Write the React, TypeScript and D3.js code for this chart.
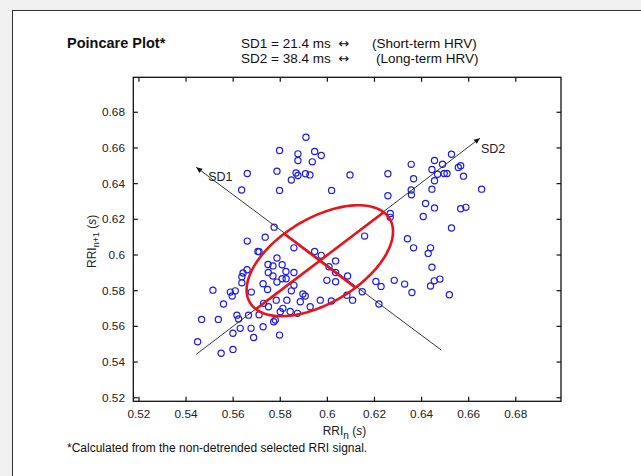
import React from "react";
import * as d3 from "d3";

const rriN = [0.5909,0.5797,0.5875,0.5875,0.5946,0.5974,0.5936,0.5786,0.5867,0.5875,0.5907,0.5926,0.5847,0.5797,0.6018,0.6096,0.6257,0.6356,0.6455,0.6527,0.6489,0.6566,0.6556,0.6444,0.6468,0.6496,0.6508,0.6578,0.6366,0.6455,0.6444,0.6356,0.6357,0.6655,0.6257,0.6417,0.6455,0.6566,0.6588,0.6407,0.6267,0.6267,0.6527,0.6158,0.6340,0.6366,0.6438,0.6428,0.6444,0.6454,0.6478,0.6438,0.6284,0.6328,0.6206,0.6228,0.5774,0.5736,0.5858,0.5946,0.5974,0.6035,0.5710,0.5786,0.5748,0.5769,0.5808,0.5749,0.5769,0.5824,0.5858,0.5808,0.5825,0.5727,0.5786,0.5858,0.6007,0.6035,0.6086,0.5998,0.6035,0.5660,0.5636,0.5660,0.5705,0.5637,0.5642,0.5659,0.5514,0.5588,0.5596,0.5609,0.5637,0.5677,0.5559,0.5466,0.5537,0.5616,0.5623,0.5665,0.5599,0.5630,0.5676,0.5687,0.5449,0.5549,0.5599,0.5727,0.5710,0.5729,0.5772,0.5779,0.5797,0.5746,0.5783,0.5828,0.5847,0.5842,0.5873,0.5896,0.5906,0.5885,0.5800,0.5811,0.5750,0.5927,0.5970,0.6017,0.6107,0.6083,0.6148,0.6219,0.6359,0.6518];
const rriN1 = [0.6660,0.6586,0.6567,0.6530,0.6580,0.6558,0.6522,0.6470,0.6460,0.6446,0.6455,0.6449,0.6420,0.6362,0.6362,0.6449,0.6455,0.6508,0.6530,0.6565,0.6509,0.6500,0.6491,0.6479,0.6453,0.6457,0.6457,0.6442,0.6427,0.6416,0.6369,0.6364,0.6337,0.6369,0.6332,0.6289,0.6264,0.6259,0.6267,0.6216,0.6233,0.6211,0.6151,0.6106,0.6091,0.6040,0.6040,0.6009,0.5932,0.5855,0.5865,0.5826,0.5858,0.5837,0.5852,0.5824,0.6156,0.6100,0.6040,0.6020,0.5998,0.5967,0.6018,0.5983,0.5947,0.5939,0.5945,0.5902,0.5882,0.5908,0.5902,0.5867,0.5867,0.5839,0.5848,0.5830,0.5934,0.5902,0.5882,0.5858,0.5850,0.6457,0.6364,0.6078,0.6020,0.5878,0.5899,0.5917,0.5803,0.5792,0.5770,0.5799,0.5844,0.5792,0.5725,0.5639,0.5639,0.5663,0.5641,0.5663,0.5561,0.5589,0.5589,0.5538,0.5514,0.5449,0.5471,0.5598,0.5665,0.5729,0.5626,0.5635,0.5551,0.5807,0.5747,0.5747,0.5799,0.5684,0.5673,0.5781,0.5770,0.5738,0.5682,0.5701,0.5710,0.5710,0.5747,0.5742,0.5747,0.5775,0.5794,0.5725,0.5790,0.5777];

const xTicks = [0.52, 0.54, 0.56, 0.58, 0.6, 0.62, 0.64, 0.66, 0.68];
const yTicks = [0.52, 0.54, 0.56, 0.58, 0.6, 0.62, 0.64, 0.66, 0.68];
const xDomain = [0.5176, 0.6992];
const yDomain = [0.518, 0.6996];

const center = [0.5968, 0.5968];
const SD1 = 0.0214;
const SD2 = 0.0384;
const sd2Line = [[0.5443, 0.5443], [0.6648, 0.6655]];
const sd1Line = [[0.6484, 0.5467], [0.5443, 0.6492]];

const titleText = "Poincare Plot*";
const sdRows = [
  { left: "SD1 = 21.4 ms", right: "(Short-term HRV)", rx: 372 },
  { left: "SD2 = 38.4 ms", right: "(Long-term HRV)", rx: 376 },
];
const footText = "*Calculated from the non-detrended selected RRI signal.";

const FONT = "'Liberation Sans', Arial, sans-serif";

export default function App() {
  const L = 133.3, R = 561, T = 77.3, B = 401.3;
  const x = d3.scaleLinear().domain(xDomain).range([L, R]);
  const y = d3.scaleLinear().domain(yDomain).range([B, T]);
  const fmt = (v: number) => String(+v.toFixed(2));

  const ts = d3.range(0, 361, 3).map((d) => (d * Math.PI) / 180);
  const s2 = Math.SQRT1_2;
  const ell = ts.map((t) => {
    const a = SD2 * Math.cos(t), b = SD1 * Math.sin(t);
    return [center[0] + (a - b) * s2, center[1] + (a + b) * s2] as [number, number];
  });
  const lineGen = d3.line<[number, number]>().x((d) => x(d[0])).y((d) => y(d[1]));
  const majA: [number, number] = [center[0] - SD2 * s2, center[1] - SD2 * s2];
  const majB: [number, number] = [center[0] + SD2 * s2, center[1] + SD2 * s2];
  const minA: [number, number] = [center[0] + SD1 * s2, center[1] - SD1 * s2];
  const minB: [number, number] = [center[0] - SD1 * s2, center[1] + SD1 * s2];

  const arrow = (p0: number[], p1: number[]) => {
    const x0 = x(p0[0]), y0 = y(p0[1]), x1 = x(p1[0]), y1 = y(p1[1]);
    const ang = Math.atan2(y1 - y0, x1 - x0);
    const len = 6, w = 2.6;
    const bx = x1 - len * Math.cos(ang), by = y1 - len * Math.sin(ang);
    const px = -Math.sin(ang) * w, py = Math.cos(ang) * w;
    return `M${x1},${y1}L${bx + px},${by + py}L${bx - px},${by - py}Z`;
  };

  return (
    <svg width={641} height={476} style={{ position: "absolute", left: 0, top: 0, background: "#f0f0f0" }} fontFamily={FONT}>
      <rect x={12.5} y={10.5} width={700} height={600} fill="#fff" stroke="#333" strokeWidth={1} />
      <text x={67} y={48} fontSize={14.5} fontWeight="bold" fill="#111">{titleText}</text>
      {sdRows.map((r, i) => (
        <g key={i} fontSize={13.5} fill="#111">
          <text x={241} y={48 + i * 15}>{r.left}</text>
          <text x={344} y={48 + i * 15} textAnchor="middle" fontFamily="'DejaVu Sans', sans-serif" fontSize={13}>↔</text>
          <text x={r.rx} y={48 + i * 15}>{r.right}</text>
        </g>
      ))}

      {/* points */}
      <g fill="none" stroke="#1c1ce6" strokeWidth={1.2}>
        {rriN.map((v, i) => (
          <circle key={i} cx={x(v)} cy={y(rriN1[i])} r={3.1} />
        ))}
      </g>

      {/* SD lines */}
      <g stroke="#222" strokeWidth={0.9} fill="none">
        <path d={lineGen(sd2Line as [number, number][]) || ""} />
        <path d={lineGen(sd1Line as [number, number][]) || ""} />
      </g>
      <path d={arrow(sd2Line[0], sd2Line[1])} fill="#111" />
      <path d={arrow(sd1Line[0], sd1Line[1])} fill="#111" />
      <text x={x(sd1Line[1][0]) + 12} y={y(sd1Line[1][1]) + 14} fontSize={12.5} fill="#222">SD1</text>
      <text x={x(sd2Line[1][0]) + 1} y={y(sd2Line[1][1]) + 15} fontSize={12.5} fill="#222">SD2</text>

      {/* ellipse */}
      <g stroke="#e8141a" strokeWidth={2.6} fill="none" strokeLinejoin="round">
        <path d={(lineGen(ell) || "") + "Z"} />
        <path d={lineGen([majA, majB]) || ""} />
        <path d={lineGen([minA, minB]) || ""} />
      </g>

      {/* axes box */}
      <rect x={L} y={T} width={R - L} height={B - T} fill="none" stroke="#111" strokeWidth={1.3} />
      <g stroke="#111" strokeWidth={1.2}>
        {xTicks.map((t) => (
          <g key={"x" + t}>
            <line x1={x(t)} x2={x(t)} y1={B} y2={B - 4.5} />
            <line x1={x(t)} x2={x(t)} y1={T} y2={T + 4.5} />
          </g>
        ))}
        {yTicks.map((t) => (
          <g key={"y" + t}>
            <line x1={L} x2={L + 4.5} y1={y(t)} y2={y(t)} />
            <line x1={R} x2={R - 4.5} y1={y(t)} y2={y(t)} />
          </g>
        ))}
      </g>
      <g fontSize={11.8} fill="#222">
        {xTicks.map((t) => (
          <text key={"xl" + t} x={x(t)} y={417.5} textAnchor="middle">{fmt(t)}</text>
        ))}
        {yTicks.map((t) => (
          <text key={"yl" + t} x={125} y={y(t) + 4} textAnchor="end">{fmt(t)}</text>
        ))}
      </g>

      {/* axis labels */}
      <text x={322.7} y={435} fontSize={12} fill="#222">
        RRI<tspan fontSize={10} dy={4}>n</tspan><tspan dy={-4}> (</tspan><tspan fontStyle="italic">s</tspan>)
      </text>
      <text transform="translate(95.5,268) rotate(-90)" fontSize={12} fill="#222">
        RRI<tspan fontSize={9} dy={3.5}>n+1</tspan><tspan dy={-3.5}> (</tspan><tspan fontStyle="italic">s</tspan>)
      </text>

      <text x={67} y={452} fontSize={12} fill="#111">{footText}</text>
    </svg>
  );
}
